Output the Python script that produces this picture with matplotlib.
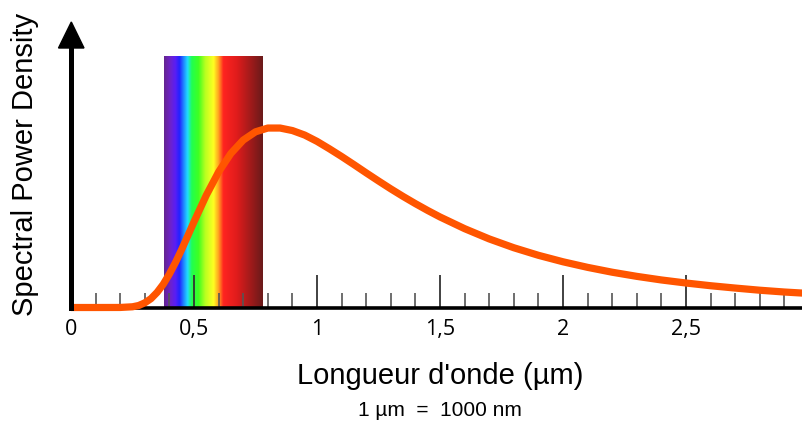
import numpy as np
import matplotlib.pyplot as plt
from matplotlib.colors import LinearSegmentedColormap
from matplotlib.patches import Polygon

# curve (relative spectral power, peak = 1)
wavelength = [0, 0.1, 0.2, 0.25, 0.275, 0.3, 0.325, 0.35, 0.375, 0.4, 0.425,
              0.45, 0.475, 0.5, 0.55, 0.6, 0.65, 0.7, 0.75, 0.8, 0.85, 0.9,
              0.95, 1.0, 1.05, 1.1, 1.15, 1.2, 1.25, 1.3, 1.35, 1.4, 1.45,
              1.5, 1.6, 1.7, 1.8, 1.9, 2.0, 2.1, 2.2, 2.3, 2.4, 2.5, 2.6,
              2.7, 2.8, 2.9, 3.0]
power = [0, 0, 0.0002, 0.004, 0.011, 0.026, 0.049, 0.084, 0.129, 0.186, 0.251,
         0.323, 0.399, 0.476, 0.624, 0.753, 0.856, 0.930, 0.976, 0.997, 0.997, 0.983,
         0.958, 0.923, 0.882, 0.839, 0.794, 0.748, 0.703, 0.659, 0.617, 0.577, 0.539,
         0.503, 0.438, 0.381, 0.332, 0.290, 0.254, 0.223, 0.196, 0.173, 0.153, 0.136, 0.121,
         0.108, 0.096, 0.086, 0.078]

# visible band colours
band_start, band_end = 0.378, 0.779
band_wl = [0.378, 0.402, 0.423, 0.440, 0.459, 0.473, 0.490, 0.518, 0.545,
           0.579, 0.599, 0.619, 0.674, 0.779]
band_colors = ['#652590', '#6e22c8', '#5a1ef5', '#2222ff', '#2090ff', '#20dcff',
               '#20ff50', '#40ff20', '#b8ff20', '#ffff22', '#ffa420', '#ff2420',
               '#e01c1c', '#6a1a1a']

tick_labels = ['0', '0,5', '1', '1,5', '2', '2,5']
major_ticks = [0, 0.5, 1, 1.5, 2, 2.5]

W, H = 802, 423
fig = plt.figure(figsize=(W / 100, H / 100), dpi=100)
ax = fig.add_axes([71 / W, (H - 307.5) / H, (W - 71) / W, (307.5 - 48) / H])

peak_px = 180
ax.set_xlim(0, (W - 71) / 246)
ax.set_ylim(0, (307.5 - 48) / peak_px)

pos = [(w - band_start) / (band_end - band_start) for w in band_wl]
cmap = LinearSegmentedColormap.from_list('spec', list(zip(pos, band_colors)))
grad = np.linspace(0, 1, 400).reshape(1, -1)
ax.imshow(grad, cmap=cmap, aspect='auto', zorder=0,
          extent=[band_start, band_end, 0, (307.5 - 57) / peak_px])

ax.plot(wavelength, power, color='#ff5500', lw=5.2, zorder=4,
        solid_capstyle='butt', clip_on=False)

for s in ['top', 'right']:
    ax.spines[s].set_visible(False)
ax.spines['bottom'].set_linewidth(2.6)
ax.spines['left'].set_linewidth(3.6)
ax.spines['left'].set_zorder(5)

ax.set_xticks(major_ticks)
ax.set_xticklabels(tick_labels, fontsize=15.5, family='Open Sans')
ax.set_xticks(np.arange(0.1, 2.95, 0.1), minor=True)
ax.tick_params(axis='x', which='major', direction='in', length=24, width=1.3,
               color='#333333', pad=8)
ax.tick_params(axis='x', which='minor', direction='in', length=11, width=1.2,
               color='#555555')
ax.xaxis.get_major_ticks()[0].tick1line.set_visible(False)
ax.set_yticks([])

fig.patches.append(Polygon([(71.3 / W, 1 - 22 / H), (58.5 / W, 1 - 48 / H),
                            (84 / W, 1 - 48 / H)], closed=True,
                           transform=fig.transFigure, color='black'))

fig.text(440 / W, 1 - 376 / H, "Longueur d'onde (µm)", ha='center', va='center',
         fontsize=21, family='Liberation Sans')
fig.text(440 / W, 1 - 410 / H, '1 µm  =  1000 nm', ha='center', va='center',
         fontsize=15, family='Liberation Sans')
fig.text(25 / W, 1 - 164 / H, 'Spectral Power Density', rotation=90,
         ha='center', va='center', fontsize=21, family='Liberation Sans')

fig.savefig('out.png', dpi=100)
